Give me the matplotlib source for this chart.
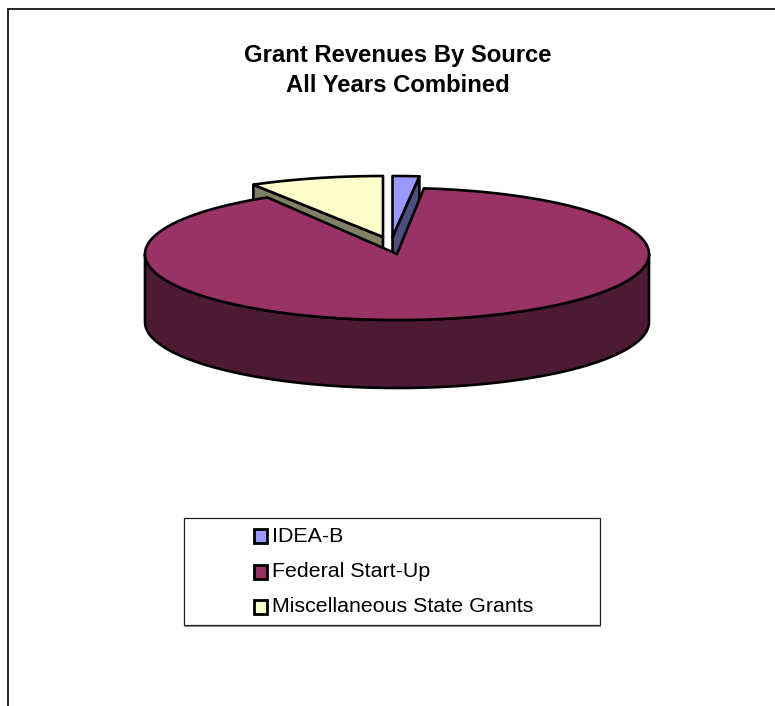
import numpy as np
import matplotlib
matplotlib.use("Agg")
import matplotlib.pyplot as plt
from matplotlib.patches import Rectangle

plt.rcParams["font.family"] = ["Liberation Sans", "DejaVu Sans"]

title_lines = ["Grant Revenues By Source", "All Years Combined"]
sources = ["IDEA-B", "Federal Start-Up", "Miscellaneous State Grants"]
shares = [1.7, 89.7, 8.6]
top_colors = ["#9999FF", "#993366", "#FFFFCC"]
side_colors = ["#4D4D80", "#4D1A33", "#808066"]

RX, DEPTH, LW = 252, 68, 1.9

fig = plt.figure(figsize=(7.75, 7.06), dpi=100)
ax = fig.add_axes([0, 0, 1, 1]); ax.axis("off")
ax.set_xlim(0, 775); ax.set_ylim(706, 0)

# chart area border, only top and left fall inside the canvas
ax.plot([8, 8, 775], [706, 9, 9], color="#111111", lw=1.3, solid_joinstyle="miter")

def pt(c, ry, deg):
    a = np.radians(deg)
    return c[0] + RX*np.cos(a), c[1] - ry*np.sin(a)

def slab(xs, ys, color, z):
    ax.fill(xs, ys, fc=color, ec="black", lw=LW, joinstyle="round", zorder=z)

# slice angles run clockwise from twelve o'clock
ends = 90 - np.cumsum(shares)*3.6
starts = np.r_[90, ends[:-1]]

# small slices sit behind the large one, each pulled out from the middle
for i, c, z in [(2, (383, 237), 2), (0, (392.5, 237), 4)]:
    a0, a1 = ends[i], starts[i]
    cut = a1 if i == 2 else a0
    ex, ey = pt(c, 61, cut)
    slab([c[0], ex, ex, c[0]], [c[1], ey, ey+DEPTH, c[1]+DEPTH], side_colors[i], z)
    arc = np.linspace(a0, a1, 40)
    ax_x, ax_y = pt(c, 61, arc)
    slab(np.r_[c[0], ax_x], np.r_[c[1], ax_y], top_colors[i], z+1)

c = (397, 254)
a0, a1 = ends[1], starts[1]
wall = np.linspace(180, 360, 120)
wx, wy = pt(c, 66, wall)
slab(np.r_[wx, wx[::-1]], np.r_[wy, wy[::-1]+DEPTH], side_colors[1], 6)
arc = np.linspace(a0, a1, 300)
ax_x, ax_y = pt(c, 66, arc)
slab(np.r_[c[0], ax_x], np.r_[c[1], ax_y], top_colors[1], 7)

for line, y in zip(title_lines, [55.5, 85.5]):
    ax.text(398, y, line, ha="center", va="center", fontsize=17.2, fontweight="bold", color="black")

# legend box with its thin shadow
ax.add_patch(Rectangle((184, 518), 416, 107, fc="white", ec="#222222", lw=0.9, zorder=8))
ax.plot([184, 600], [625.6, 625.6], color="#888888", lw=0.7, zorder=8)
for name, col, y in zip(sources, top_colors, [536, 571.5, 606.5]):
    ax.add_patch(Rectangle((253.5, y-7), 13.5, 14, fc=col, ec="black", lw=2, zorder=9))
    ax.text(272, y, name, ha="left", va="center", fontsize=15.4, color="black", zorder=9)

fig.savefig("out.png", dpi=100)
